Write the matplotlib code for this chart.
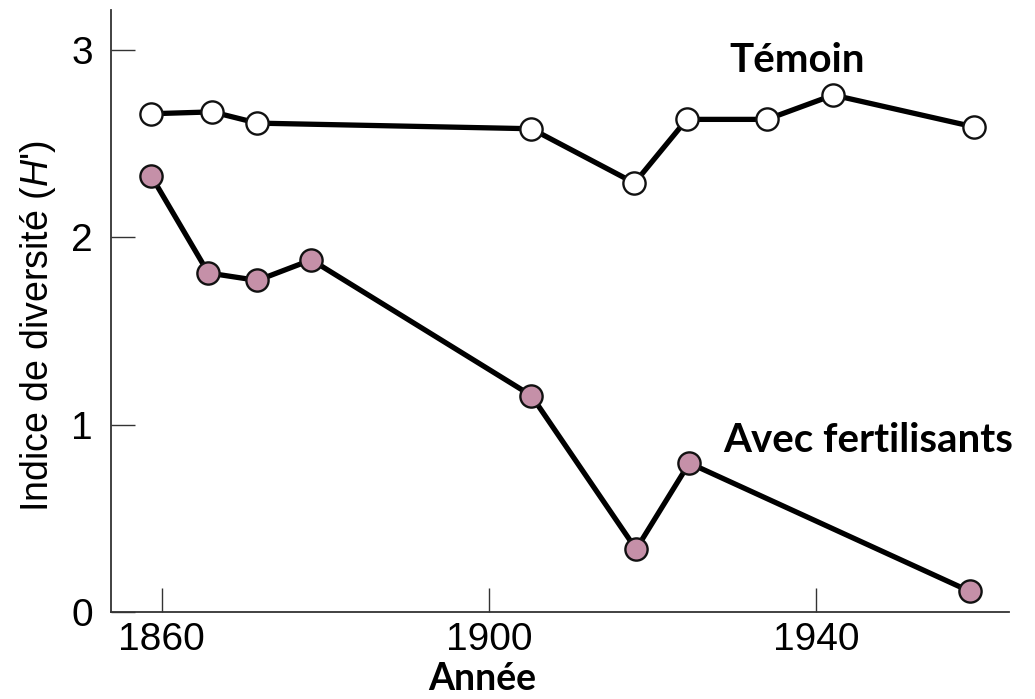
import matplotlib
matplotlib.use('Agg')
import matplotlib.pyplot as plt

# Indice de diversité de Shannon, parcelles témoin et fertilisées
annees_temoin = [1858.7, 1866.2, 1871.7, 1905.2, 1917.8, 1924.2, 1934.0, 1942.1, 1959.3]
h_temoin = [2.66, 2.67, 2.61, 2.58, 2.29, 2.63, 2.63, 2.76, 2.59]

annees_fert = [1858.7, 1865.7, 1871.7, 1878.3, 1905.2, 1918.0, 1924.5, 1958.8]
h_fert = [2.33, 1.81, 1.77, 1.88, 1.155, 0.335, 0.795, 0.11]

xticks = [1860, 1900, 1940]
yticks = [0, 1, 2, 3]

plt.rcParams['mathtext.fontset'] = 'custom'
plt.rcParams['mathtext.it'] = 'Liberation Sans:italic'
plt.rcParams['mathtext.rm'] = 'Liberation Sans'

fig = plt.figure(figsize=(10.35, 6.99), dpi=100)
ax = fig.add_axes([0.1072, 0.1245, 0.8678, 0.8612])

ax.plot(annees_temoin, h_temoin, color='black', lw=3.8, marker='o', ms=16,
        mfc='white', mec='#111111', mew=1.7, zorder=3)
ax.plot(annees_fert, h_fert, color='black', lw=3.8, marker='o', ms=16,
        mfc='#c590a8', mec='#111111', mew=1.7, zorder=3)

ax.set_xlim(1853.8, 1963.6)
ax.set_ylim(0, 3.214)
ax.set_xticks(xticks)
ax.set_yticks(yticks)

for s in ['top', 'right']:
    ax.spines[s].set_visible(False)
for s in ['left', 'bottom']:
    ax.spines[s].set_color('#333333')
    ax.spines[s].set_linewidth(1.3)

ax.tick_params(direction='in', length=17, width=1.0, color='#333333',
               labelsize=28, labelfontfamily='Liberation Sans')
ax.tick_params(axis='y', pad=13)
ax.tick_params(axis='x', pad=7)

ax.set_ylabel("Indice de diversité ($\\mathit{H}$')", fontsize=27,
              family='Liberation Sans')
ax.yaxis.set_label_coords(-0.059, 0.475)
ax.set_xlabel('Année', fontsize=27, family='Lato', weight='bold')
ax.xaxis.set_label_coords(0.413, -0.083)

ax.text(1937.7, 2.947, 'Témoin', fontsize=29, family='Lato', weight='bold',
        ha='center', va='center')
ax.text(1928.7, 0.854, 'Avec fertilisants', fontsize=29, family='Lato',
        weight='bold', ha='left', va='baseline', clip_on=False)

fig.savefig('out.png', dpi=100)
